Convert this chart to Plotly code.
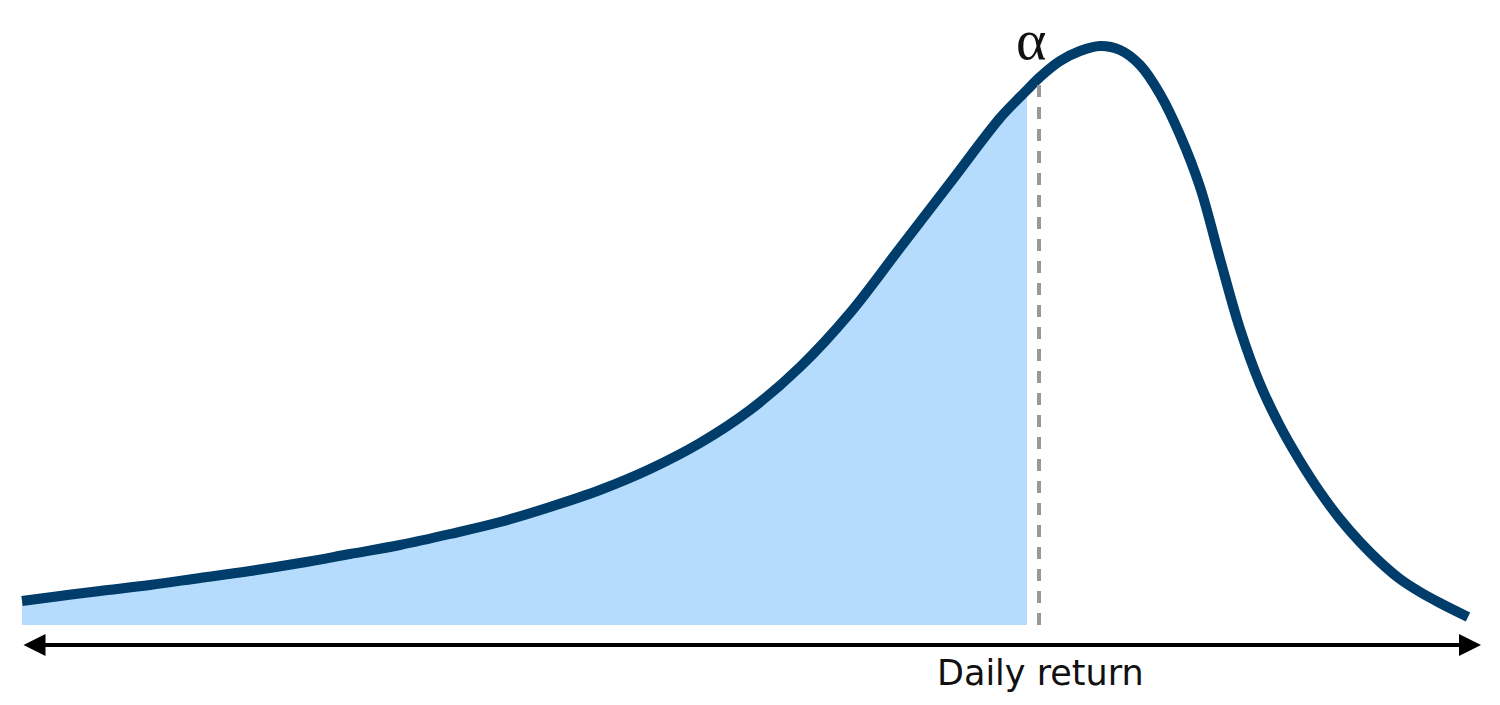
import numpy as np
import plotly.graph_objects as go

# Curve positions (horizontal units) and vertical positions
curve_x = [22, 60, 100, 150, 200, 250, 300, 350, 400, 450, 500, 550, 600, 650,
           700, 750, 800, 850, 900, 950, 1000, 1020, 1027, 1040, 1060, 1080, 1100,
           1120, 1140, 1160, 1180, 1200, 1220, 1240, 1260, 1280, 1300, 1320,
           1340, 1360, 1380, 1400, 1420, 1440, 1468]
curve_py = [601, 596, 591, 585, 578, 571, 563, 554, 545, 534, 522, 507, 490, 469,
            443, 410, 367, 313, 248, 183, 118, 97, 90, 77, 61, 51, 46,
            50, 65, 94, 135, 187, 259, 329, 384, 426, 461, 492,
            519, 542, 562, 579, 592, 603, 617]
baseline = 625
density = [baseline - p for p in curve_py]

alpha_x = 1039        # VaR threshold position
fill_end_x = 1027     # end of shaded tail
axis_left, axis_right = 22, 1481
axis_y = -20
label_text = "Daily return"
alpha_text = "α"

line_color = "#003d6b"
fill_color = "#b5dcfc"

cx = np.array(curve_x, dtype=float)
cy = np.array(density, dtype=float)
mask = cx <= fill_end_x

fig = go.Figure()
fig.add_trace(go.Scatter(
    x=cx[mask], y=cy[mask], mode="lines", fill="tozeroy",
    fillcolor=fill_color, line=dict(width=0, shape="spline", color=fill_color),
    hoverinfo="skip", showlegend=False))

alpha_top = float(np.interp(alpha_x, cx, cy)) - 5
fig.add_shape(type="line", x0=alpha_x, x1=alpha_x, y0=0, y1=alpha_top,
              xref="x", yref="y",
              line=dict(color="#999999", width=4, dash="12px,10px"))

fig.add_trace(go.Scatter(
    x=cx, y=cy, mode="lines",
    line=dict(width=10, shape="spline", color=line_color),
    hoverinfo="skip", showlegend=False))

fig.add_annotation(x=axis_right, y=axis_y, ax=axis_left, ay=axis_y,
                   xref="x", yref="y", axref="x", ayref="y",
                   text="", showarrow=True, arrowside="end+start",
                   arrowhead=2, startarrowhead=2, arrowsize=1.1,
                   startarrowsize=1.1, arrowwidth=4, arrowcolor="#000000")

fig.add_annotation(x=1040, y=-47.5, xref="x", yref="y", text=label_text,
                   showarrow=False, font=dict(family="DejaVu Sans", size=35, color="#111111"),
                   xanchor="center", yanchor="middle")

fig.add_annotation(x=1031, y=586, xref="x", yref="y", text=alpha_text,
                   showarrow=False,
                   font=dict(family="Liberation Serif", size=58, color="#111111"),
                   xanchor="center", yanchor="middle")

# the page body adds an 8px offset; ranges compensate so marks land in place
fig.update_layout(
    width=1500, height=705,
    margin=dict(l=0, r=0, t=0, b=0),
    paper_bgcolor="white", plot_bgcolor="white",
    xaxis=dict(range=[8, 1508], visible=False, fixedrange=True),
    yaxis=dict(range=[-88, 617], visible=False, fixedrange=True),
    showlegend=False,
)

fig.write_html("out.html")
